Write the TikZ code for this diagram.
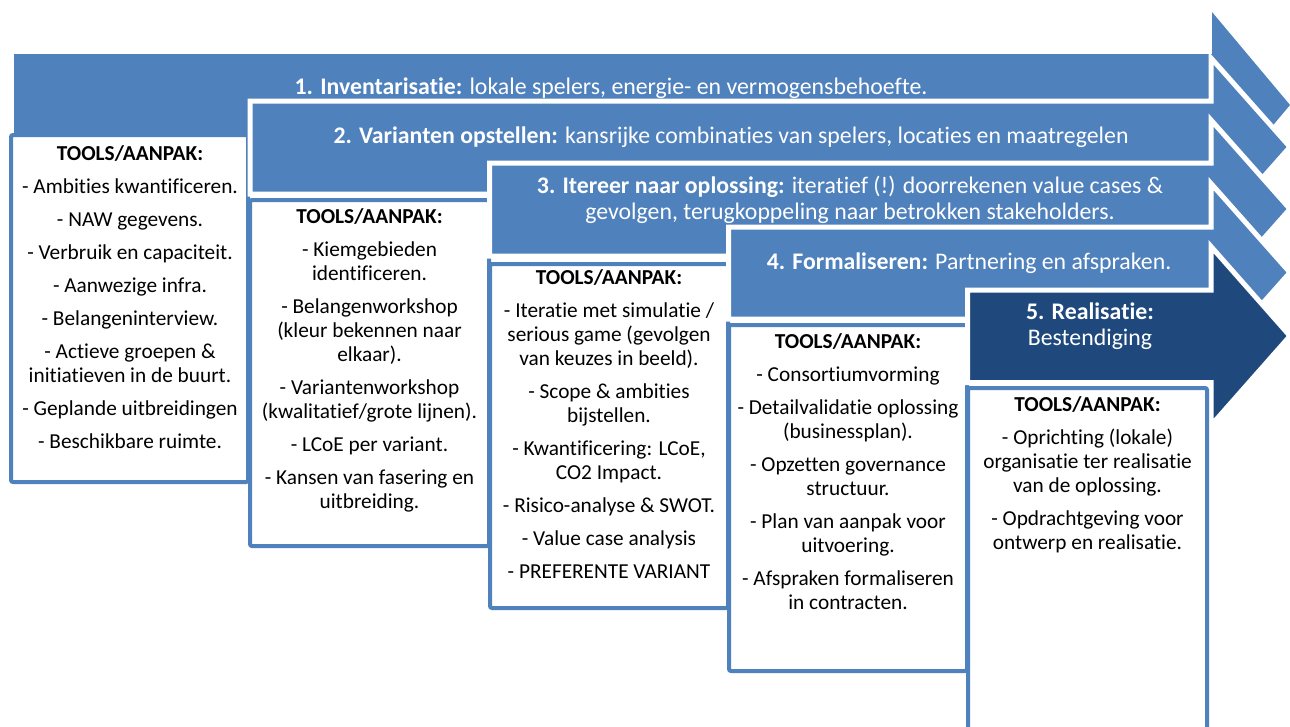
\documentclass[tikz,border=0pt]{standalone}
\usepackage{fontspec}
\setmainfont{Carlito}[Ligatures=NoCommon]
\definecolor{ablue}{HTML}{4F81BD}
\definecolor{adark}{HTML}{1F497D}
\tikzset{
  arrowshape/.style={fill=ablue, draw=white, line width=5pt, line join=miter},
  firstarrow/.style={fill=ablue, draw=none},
  lastarrow/.style={fill=adark, draw=white, line width=5pt, line join=miter},
  toolbox/.style={draw=ablue, fill=white, line width=4pt, rounded corners=2pt},
  boxtext/.style={anchor=north, align=center, inner sep=0pt, text=black, font=\fontsize{21.3}{24}\selectfont},
  arrtext/.style={anchor=north, align=center, inner sep=0pt, text=white, font=\fontsize{23.8}{26}\selectfont},
}
\newcommand{\fs}{\rule{0pt}{17pt}}
\begin{document}
\begin{tikzpicture}[x=1pt, y=-1pt]
\useasboundingbox (0,0) rectangle (1290,726);
\clip (0,0) rectangle (1290,726);

% Arrow 1
\path[firstarrow] (14,54) -- (1212,54) -- (1212,12) -- (1290,105) -- (1212,198) -- (1212,156) -- (14,156) -- cycle;
\node[arrtext] (a1) at (611,77) {\fs\textbf{1. Inventarisatie:} lokale spelers, energie- en vermogensbehoefte.};
% Box 1
\draw[toolbox] (11,135) rectangle (248,482);
\node[boxtext] (b1) at (130,143) {\fs\textbf{TOOLS/AANPAK:}\\[9pt]
- Ambities kwantificeren.\\[9pt]
- NAW gegevens.\\[9pt]
- Verbruik en capaciteit.\\[9pt]
- Aanwezige infra.\\[9pt]
- Belangeninterview.\\[9pt]
- Actieve groepen \&\\ initiatieven in de buurt.\\[9pt]
- Geplande uitbreidingen\\[9pt]
- Beschikbare ruimte.};

% Arrow 2
\path[arrowshape] (250,101) -- (1211,101) -- (1211,58) -- (1290,147) -- (1211,236) -- (1211,194) -- (250,194) -- cycle;
\node[arrtext] (a2) at (731,126) {\fs\textbf{2. Varianten opstellen:} kansrijke combinaties van spelers, locaties en maatregelen};
% Box 2
\draw[toolbox] (250,200) rectangle (489,546);
\node[boxtext] (b2) at (369.5,206.5) {\fs\textbf{TOOLS/AANPAK:}\\[9pt]
- Kiemgebieden\\ identificeren.\\[9pt]
- Belangenworkshop\\ (kleur bekennen naar\\ elkaar).\\[9pt]
- Variantenworkshop\\ (kwalitatief/grote lijnen).\\[9pt]
- LCoE per variant.\\[9pt]
- Kansen van fasering en\\ uitbreiding.};

% Arrow 3
\path[arrowshape] (489.5,163) -- (1211,163) -- (1211,120) -- (1290,209) -- (1211,298) -- (1211,256) -- (489.5,256) -- cycle;
\node[arrtext] (a3) at (850,176) {\fs\textbf{3. Itereer naar oplossing:} iteratief (!) doorrekenen value cases \&\\ gevolgen, terugkoppeling naar betrokken stakeholders.};
% Box 3
\draw[toolbox] (490,264) rectangle (728,608);
\node[boxtext] (b3) at (609,267.5) {\fs\textbf{TOOLS/AANPAK:}\\[9pt]
- Iteratie met simulatie /\\ serious game (gevolgen\\ van keuzes in beeld).\\[9pt]
- Scope \& ambities\\ bijstellen.\\[9pt]
- Kwantificering: LCoE,\\ CO2 Impact.\\[9pt]
- Risico-analyse \& SWOT.\\[9pt]
- Value case analysis\\[9pt]
- PREFERENTE VARIANT};

% Arrow 4
\path[arrowshape] (728.5,227) -- (1211,227) -- (1211,183.5) -- (1290,272.5) -- (1211,361.5) -- (1211,319) -- (728.5,319) -- cycle;
\node[arrtext] (a4) at (969,252) {\fs\textbf{4. Formaliseren:} Partnering en afspraken.};
% Box 4
\draw[toolbox] (729,325) rectangle (967,671);
\node[boxtext] (b4) at (848,331.5) {\fs\textbf{TOOLS/AANPAK:}\\[9pt]
- Consortiumvorming\\[9pt]
- Detailvalidatie oplossing\\ (businessplan).\\[9pt]
- Opzetten governance\\ structuur.\\[9pt]
- Plan van aanpak voor\\ uitvoering.\\[9pt]
- Afspraken formaliseren\\ in contracten.};

% Arrow 5
\path[lastarrow] (967.5,290) -- (1211,290) -- (1211,246.5) -- (1290,336) -- (1211,425.5) -- (1211,382.5) -- (967.5,382.5) -- cycle;
\node[arrtext] (a5) at (1090,302) {\fs\textbf{5. Realisatie:}\\ Bestendiging};
% Box 5
\draw[toolbox] (968,388) rectangle (1207,736);
\node[boxtext] (b5) at (1087.5,394.5) {\fs\textbf{TOOLS/AANPAK:}\\[9pt]
- Oprichting (lokale)\\ organisatie ter realisatie\\ van de oplossing.\\[9pt]
- Opdrachtgeving voor\\ ontwerp en realisatie.};
\end{tikzpicture}
\end{document}
